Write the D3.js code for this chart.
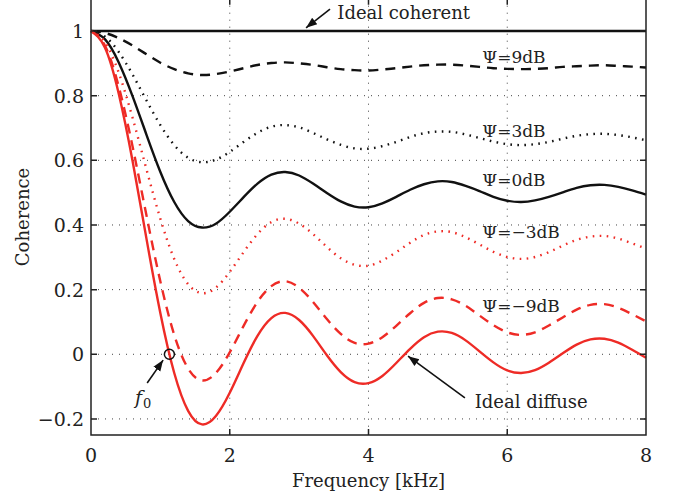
<!DOCTYPE html>
<html>
<head>
<meta charset="utf-8">
<script src="https://cdn.jsdelivr.net/npm/d3@7"></script>
<style>
  html, body { margin: 0; padding: 0; background: #fff; }
  svg { display: block; }
  text { font-family: "DejaVu Serif", serif; fill: #222; }
</style>
</head>
<body>
<div id="chart"></div>
<script>
// frequency grid (kHz)
const freq = [0, 0.2, 0.4, 0.6, 0.8, 1.0, 1.2, 1.4, 1.6, 1.8, 2.0, 2.2, 2.4, 2.6, 2.8, 3.0, 3.2, 3.4, 3.6, 3.8,
  4.0, 4.2, 4.4, 4.6, 4.8, 5.0, 5.2, 5.4, 5.6, 5.8, 6.0, 6.2, 6.4, 6.6, 6.8, 7.0, 7.2, 7.4, 7.6, 7.8, 8.0];

// coherence values
const idealCoherent = freq.map(() => 1);
const psi9 = [1, 0.994, 0.978, 0.955, 0.928, 0.902, 0.882, 0.869, 0.864, 0.867, 0.875, 0.885, 0.895, 0.901, 0.903,
  0.900, 0.895, 0.888, 0.882, 0.879, 0.878, 0.881, 0.885, 0.890, 0.894, 0.896, 0.896, 0.893, 0.889, 0.885,
  0.883, 0.882, 0.883, 0.885, 0.889, 0.891, 0.893, 0.894, 0.892, 0.890, 0.887];
const psi3 = [1, 0.983, 0.935, 0.865, 0.785, 0.709, 0.647, 0.608, 0.594, 0.602, 0.626, 0.657, 0.685, 0.704, 0.709,
  0.702, 0.685, 0.665, 0.648, 0.637, 0.636, 0.644, 0.657, 0.672, 0.684, 0.689, 0.688, 0.680, 0.669, 0.658,
  0.650, 0.647, 0.650, 0.657, 0.667, 0.676, 0.681, 0.682, 0.678, 0.671, 0.662];
const psi0 = [1, 0.975, 0.903, 0.798, 0.679, 0.564, 0.471, 0.412, 0.392, 0.404, 0.441, 0.486, 0.528, 0.556, 0.564,
  0.553, 0.528, 0.499, 0.473, 0.457, 0.455, 0.467, 0.487, 0.509, 0.526, 0.535, 0.533, 0.521, 0.505, 0.487,
  0.475, 0.471, 0.476, 0.487, 0.501, 0.515, 0.523, 0.524, 0.518, 0.507, 0.494];
const psiM3 = [1, 0.966, 0.871, 0.731, 0.572, 0.419, 0.295, 0.217, 0.189, 0.206, 0.255, 0.316, 0.372, 0.409, 0.419,
  0.404, 0.372, 0.332, 0.297, 0.277, 0.274, 0.290, 0.316, 0.345, 0.369, 0.380, 0.378, 0.362, 0.340, 0.317,
  0.301, 0.295, 0.301, 0.316, 0.336, 0.354, 0.364, 0.366, 0.358, 0.343, 0.327];
const psiM9 = [1, 0.955, 0.828, 0.642, 0.429, 0.225, 0.060, -0.044, -0.081, -0.058, 0.006, 0.088, 0.162, 0.211, 0.226,
  0.206, 0.162, 0.109, 0.063, 0.035, 0.033, 0.053, 0.088, 0.127, 0.159, 0.174, 0.170, 0.150, 0.120, 0.090,
  0.068, 0.060, 0.068, 0.089, 0.114, 0.138, 0.153, 0.155, 0.144, 0.124, 0.102];
const idealDiffuse = [1, 0.949, 0.806, 0.597, 0.357, 0.127, -0.058, -0.175, -0.217, -0.191, -0.119, -0.027, 0.057,
  0.112, 0.128, 0.106, 0.057, -0.003, -0.055, -0.086, -0.089, -0.067, -0.027, 0.017, 0.053, 0.070, 0.066,
  0.043, 0.009, -0.025, -0.050, -0.058, -0.049, -0.026, 0.003, 0.030, 0.046, 0.048, 0.036, 0.014, -0.011];

const xTicks = [0, 2, 4, 6, 8];
const yTicks = [-0.2, 0, 0.2, 0.4, 0.6, 0.8, 1];
const f0 = 1.13;

const width = 679, height = 497;
const mLeft = 91, mRight = 646, mTop = -1.3, mBottom = 435.1;

const x = d3.scaleLinear().domain([0, 8]).range([mLeft, mRight]);
const y = d3.scaleLinear().domain([-0.25, 1.1]).range([mBottom, mTop]);

const red = "#ee2b26", black = "#111";

const series = [
  { values: idealCoherent, color: black, dash: null },
  { values: psi9, color: black, dash: "10,7" },
  { values: psi3, color: black, dash: "1.6,5.4" },
  { values: psi0, color: black, dash: null },
  { values: psiM3, color: red, dash: "1.6,5.4" },
  { values: psiM9, color: red, dash: "10,7" },
  { values: idealDiffuse, color: red, dash: null }
];

const svg = d3.select("#chart").append("svg")
  .attr("width", width).attr("height", height)
  .attr("font-family", "DejaVu Serif, serif");

svg.append("defs").append("marker")
  .attr("id", "head")
  .attr("viewBox", "0 0 10 10")
  .attr("refX", 10).attr("refY", 5)
  .attr("markerWidth", 11).attr("markerHeight", 11)
  .attr("markerUnits", "userSpaceOnUse")
  .attr("orient", "auto")
  .append("path").attr("d", "M0,1.2 L10,5 L0,8.8 Z").attr("fill", "#111");

const plot = svg.append("g");

// dotted grid
plot.selectAll(".gx").data(xTicks.slice(1, -1)).join("line")
  .attr("x1", d => x(d)).attr("x2", d => x(d))
  .attr("y1", mTop).attr("y2", mBottom)
  .attr("stroke", "#444").attr("stroke-width", 1).attr("stroke-dasharray", "1,6");
plot.selectAll(".gy").data(yTicks).join("line")
  .attr("x1", mLeft).attr("x2", mRight)
  .attr("y1", d => y(d)).attr("y2", d => y(d))
  .attr("stroke", "#444").attr("stroke-width", 1).attr("stroke-dasharray", "1,6");

// curves
const line = d3.line()
  .x((d, i) => x(freq[i]))
  .y(d => y(d))
  .curve(d3.curveNatural);

plot.selectAll(".curve").data(series).join("path")
  .attr("d", d => line(d.values))
  .attr("fill", "none")
  .attr("stroke", d => d.color)
  .attr("stroke-width", 2.4)
  .attr("stroke-dasharray", d => d.dash);

// frame and inward ticks
const frame = svg.append("g").attr("stroke", "#222").attr("stroke-width", 1.5).attr("fill", "none");
frame.append("path").attr("d", `M${mLeft},${mTop}V${mBottom}H${mRight}V${mTop}`);
frame.selectAll(".tx").data(xTicks.slice(1, -1)).join("path")
  .attr("d", d => `M${x(d)},${mBottom}v-6M${x(d)},${mTop}v6`);
frame.selectAll(".ty").data(yTicks).join("path")
  .attr("d", d => `M${mLeft},${y(d)}h6M${mRight},${y(d)}h-6`);

// tick labels
svg.selectAll(".xl").data(xTicks).join("text")
  .attr("x", d => x(d)).attr("y", 462)
  .attr("text-anchor", "middle").attr("font-size", 19)
  .text(d => d);
svg.selectAll(".yl").data(yTicks).join("text")
  .attr("x", mLeft - 7).attr("y", d => y(d) + 7)
  .attr("text-anchor", "end").attr("font-size", 19)
  .text(d => d < 0 ? "\u2212" + Math.abs(d) : d);

// axis titles
svg.append("text")
  .attr("x", (mLeft + mRight) / 2).attr("y", 487)
  .attr("text-anchor", "middle").attr("font-size", 18)
  .text("Frequency [kHz]");
svg.append("text")
  .attr("transform", `translate(29,217) rotate(-90)`)
  .attr("text-anchor", "middle").attr("font-size", 18)
  .text("Coherence");

// curve labels
const labels = [
  { text: "Ψ=9dB", fx: 5.64, c: 0.901 },
  { text: "Ψ=3dB", fx: 5.64, c: 0.672 },
  { text: "Ψ=0dB", fx: 5.64, c: 0.521 },
  { text: "Ψ=\u22123dB", fx: 5.64, c: 0.360 },
  { text: "Ψ=\u22129dB", fx: 5.64, c: 0.131 }
];
svg.selectAll(".lab").data(labels).join("text")
  .attr("x", d => x(d.fx)).attr("y", d => y(d.c))
  .attr("font-size", 17)
  .text(d => d.text);

// annotations with arrows
const notes = [
  { text: "Ideal coherent", tx: 3.55, ty: 1.037, from: [3.445, 1.068], to: [3.10, 1.010] },
  { text: "Ideal diffuse", tx: 5.53, ty: -0.166, from: [5.39, -0.135], to: [4.57, -0.006] }
];
svg.selectAll(".note").data(notes).join("text")
  .attr("x", d => x(d.tx)).attr("y", d => y(d.ty))
  .attr("font-size", 18)
  .text(d => d.text);
svg.selectAll(".arrow").data(notes.concat([{ from: [0.81, -0.089], to: [1.04, -0.018] }])).join("line")
  .attr("x1", d => x(d.from[0])).attr("y1", d => y(d.from[1]))
  .attr("x2", d => x(d.to[0])).attr("y2", d => y(d.to[1]))
  .attr("stroke", "#111").attr("stroke-width", 1.6)
  .attr("marker-end", "url(#head)");

// f0 marker
svg.append("circle")
  .attr("cx", x(f0)).attr("cy", y(0)).attr("r", 5)
  .attr("fill", "none").attr("stroke", "#111").attr("stroke-width", 1.5);
const f0Label = svg.append("text")
  .attr("x", x(0.635)).attr("y", y(-0.154))
  .attr("font-size", 19);
f0Label.append("tspan").attr("font-style", "italic").text("f");
f0Label.append("tspan").attr("font-size", 13).attr("dy", 4).attr("dx", 1).text("0");
</script>
</body>
</html>
